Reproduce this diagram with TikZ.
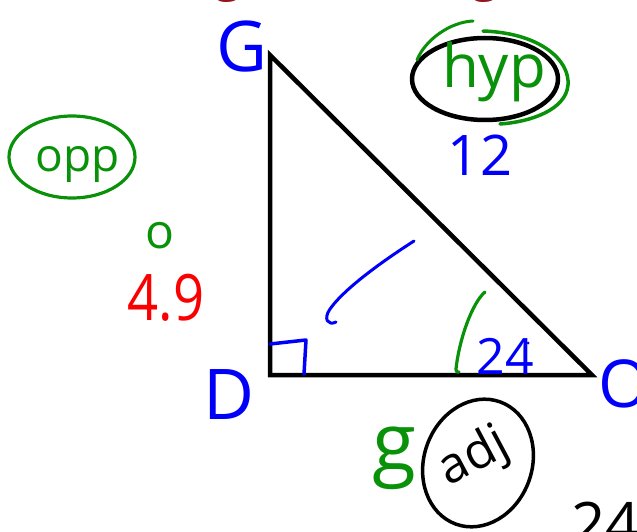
\documentclass[tikz,border=0pt]{standalone}
\usepackage{fontspec}
\setmainfont{Open Sans}
\usepackage{tikz}
\definecolor{inkblue}{RGB}{0,0,250}
\definecolor{inkgreen}{RGB}{10,145,10}
\definecolor{inkred}{RGB}{250,0,0}
\definecolor{inkmaroon}{RGB}{150,20,25}

\begin{document}
\begin{tikzpicture}[x=1pt,y=-1pt,
  pen/.style={line width=#1,line cap=round,line join=round},
  pen/.default=3.5,
  word/.style={inner sep=0pt,font=\fontsize{#1}{#1}\selectfont},
  word/.default=40]
  \useasboundingbox (0,0) rectangle (637,532);
  \clip (0,0) rectangle (637,532);
  % triangle
  \coordinate (top) at (270,55);
  \coordinate (corner) at (270,375);
  \coordinate (right) at (592,375);
  \draw[line width=4.5pt,line join=miter] (top)--(corner)--(right)--cycle;
  % vertex letters
  \node[word=70,text=inkblue] (labG) at (242,46) {G};
  \node[word=70,text=inkblue] (labD) at (229,395) {D};
  \node[word=66,text=inkblue] (labO) at (624,384) {O};
  % marks inside
  \draw[pen=3.5,inkblue] (270,344) -- (306,340) -- (304,374);
  \draw[pen=3,inkblue] (414,241) .. controls (372,268) and (342,292) .. (330,309)
    .. controls (323,319) and (328,326) .. (336,322);
  \draw[pen=3.2,inkgreen] (485,292) .. controls (472,303) and (459,340) .. (456,369)
    .. controls (456,372) and (458,373) .. (459,372);
  \node[word=50,text=inkblue] (ang) at (505,356) {24};
  \fill[inkblue] (528,343) circle (1.5);
  % hypotenuse
  \draw[pen=4.5,black] (485,79) ellipse [x radius=73,y radius=41];
  \draw[pen=3,inkgreen] (473,21) .. controls (450,22) and (425,40) .. (417,60);
  \draw[pen=3.5,inkgreen] (483,31) .. controls (540,33) and (570,60) .. (568,85)
    .. controls (566,110) and (530,122) .. (500,124);
  \node[word=60,text=inkgreen] (hyp) at (494,72) {hyp};
  \node[word=56,text=inkblue] (hlen) at (480,155) {12};
  % opposite
  \draw[pen=3.2,inkgreen] (72,157) ellipse [x radius=63,y radius=41];
  \node[word=46,text=inkgreen] (opp) at (78,164) {opp};
  \node[word=48,text=inkgreen] (deg) at (160,236) {o};
  \node[word=64,text=inkred,xscale=0.85] (olen) at (166,298) {4.9};
  % adjacent
  \draw[pen=3.5,black,rotate around={-20:(478,463)}] (478,463) ellipse [x radius=54,y radius=65];
  \node[word=50,rotate=28] (adj) at (474,458) {adj};
  \node[word=80,text=inkgreen] (alen) at (394,458) {g};
  % cut-off writing at the edges
  \node[word=50,text=inkmaroon,anchor=base] (topa) at (222,-9) {,g};
  \node[word=50,text=inkmaroon,anchor=base] (topb) at (485,-9) {g};
  \node[word=60,anchor=north west] (bot) at (555,502) {.24};
\end{tikzpicture}
\end{document}
